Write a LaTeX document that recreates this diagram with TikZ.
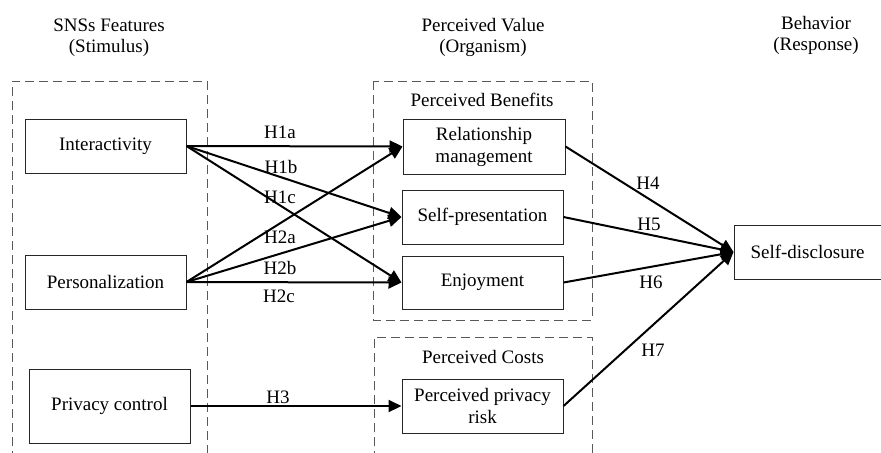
\documentclass[tikz,border=0pt]{standalone}
\usepackage{fontspec}
\setmainfont{Liberation Serif}
\usetikzlibrary{arrows.meta}
\tikzset{
  box/.style={draw=black!85, line width=0.5pt, rectangle, inner sep=0pt, align=center,
              minimum width=80.5pt, minimum height=27pt, font=\fontsize{9.5}{11}\selectfont},
  headtext/.style={align=center, inner sep=0pt, font=\fontsize{9.5}{10.5}\selectfont},
  lbl/.style={inner sep=0pt, font=\fontsize{9.5}{11}\selectfont},
  grp/.style={draw=black!65, line width=0.5pt, dash pattern=on 4.5pt off 2.5pt},
  link/.style={draw=black, line width=1pt, -{Triangle[length=6.5pt,width=6pt]}, shorten >=0pt},
  plain/.style={draw=black, line width=1pt}
}
\begin{document}
\begin{tikzpicture}[x=0.5pt,y=-0.5pt]
\useasboundingbox (0,0) rectangle (881,452);
\clip (0,0) rectangle (881,452);

% headings
\node[headtext] (hS) at (109,37.5) {SNSs Features\\(Stimulus)};
\node[headtext] (hO) at (483,37.5) {Perceived Value\\(Organism)};
\node[headtext] (hR) at (816,35.5) {Behavior\\(Response)};

% group boxes
\draw[grp] (12,460) -- (12,81) -- (207,81) -- (207,460);
\draw[grp] (373,81) rectangle (592,320);
\draw[grp] (374,460) -- (374,337) -- (592,337) -- (592,460);
\node[lbl] (pb) at (482,100) {Perceived Benefits};
\node[lbl] (pc) at (483,357) {Perceived Costs};

% boxes
\node[box] (inter) at (105.5,146) {Interactivity};
\node[box] (pers) at (105.5,282) {Personalization};
\node[box, minimum height=37pt] (priv) at (109.5,406) {Privacy control};
\node[box, minimum width=81pt, minimum height=27.5pt] (rm) at (484,146.5) {Relationship\\management};
\node[box] (sp) at (482.5,217) {Self-presentation};
\node[box, minimum height=26.5pt] (enj) at (482.5,282.5) {Enjoyment};
\node[box] (ppr) at (482.5,406) {Perceived privacy\\risk};
\node[box, minimum width=73.5pt] (sd) at (807.5,252) {Self-disclosure};

% connectors
\draw[link] (inter.east) -- (rm.west);
\draw[link] (inter.east) -- (sp.west);
\draw[link] (inter.east) -- (enj.west);
\draw[link] (pers.east) -- (rm.west);
\draw[link] (pers.east) -- (sp.west);
\draw[link] (pers.east) -- (enj.west);
\draw[link] (priv.east) -- (ppr.west);
\draw[link] (rm.east) -- (sd.west);
\draw[link] (sp.east) -- (sd.west);
\draw[link] (enj.east) -- (sd.west);
\draw[link] (ppr.east) -- (sd.west);

% labels
\node[lbl] (l1a) at (280,132) {H1a};
\node[lbl] (l1b) at (281,167) {H1b};
\node[lbl] (l1c) at (280,197) {H1c};
\node[lbl] (l2a) at (280,237) {H2a};
\node[lbl] (l2b) at (280,268) {H2b};
\node[lbl] (l2c) at (279,296) {H2c};
\node[lbl] (l3) at (278,397) {H3};
\node[lbl] (l4) at (648,183) {H4};
\node[lbl] (l5) at (649,224) {H5};
\node[lbl] (l6) at (651,282) {H6};
\node[lbl] (l7) at (653,350) {H7};
\end{tikzpicture}
\end{document}
